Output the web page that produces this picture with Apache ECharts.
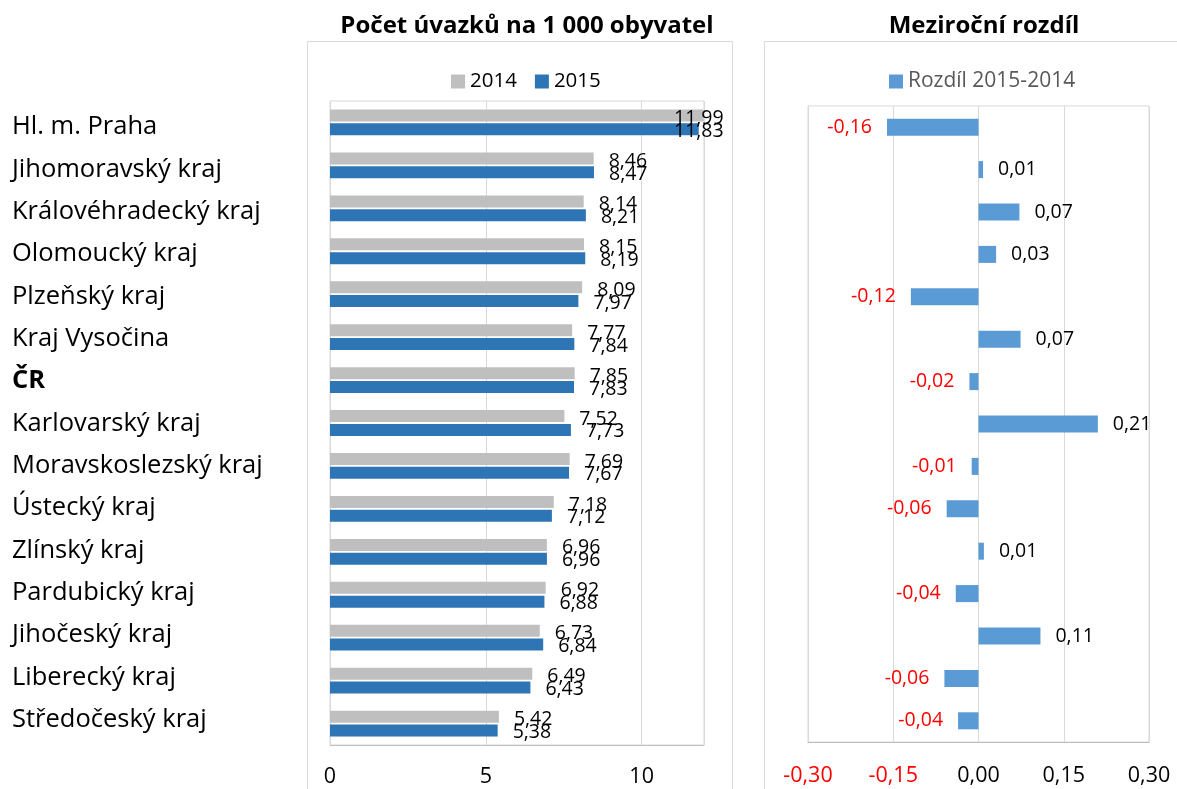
<!DOCTYPE html>
<html>
<head>
<meta charset="utf-8">
<script src="https://cdn.jsdelivr.net/npm/echarts@6/dist/echarts.min.js"></script>
<style>
  html, body { margin: 0; padding: 0; background: #fff; }
  #chart { width: 1177px; height: 789px; }
</style>
</head>
<body>
<div id="chart"></div>
<script>
  // kraje (shora dolu)
  var regions = ['Hl. m. Praha', 'Jihomoravský kraj', 'Královéhradecký kraj', 'Olomoucký kraj',
    'Plzeňský kraj', 'Kraj Vysočina', 'ČR', 'Karlovarský kraj', 'Moravskoslezský kraj',
    'Ústecký kraj', 'Zlínský kraj', 'Pardubický kraj', 'Jihočeský kraj', 'Liberecký kraj',
    'Středočeský kraj'];
  var val2014 = [11.99, 8.46, 8.14, 8.15, 8.09, 7.77, 7.85, 7.52, 7.69, 7.18, 6.96, 6.92, 6.73, 6.49, 5.42];
  var val2015 = [11.83, 8.47, 8.21, 8.19, 7.97, 7.84, 7.83, 7.73, 7.67, 7.12, 6.96, 6.88, 6.84, 6.43, 5.38];
  // rozdil 2015-2014 (odecteno z delky sloupcu)
  var diff = [-0.161, 0.008, 0.072, 0.031, -0.119, 0.074, -0.016, 0.21, -0.012, -0.056, 0.0095, -0.04, 0.109, -0.06, -0.036];

  var FONT = "'Open Sans', 'Noto Sans', sans-serif";
  var GRID_C = '#D9D9D9';

  function fmt(v) {
    return v.toFixed(2).replace('.', ',');
  }

  // popisky, ktere by pretekly pres graf, dat dovnitr
  function leftBars(arr) {
    return arr.map(function (v) {
      if (v > 11) {
        return { value: v, label: { position: 'insideLeft', distance: 344 } };
      }
      return v;
    });
  }

  var diffData = diff.map(function (v) {
    return {
      value: v,
      label: {
        position: v < 0 ? 'left' : 'right',
        color: v < 0 ? '#FF0000' : '#000000'
      }
    };
  });

  var myChart = echarts.init(document.getElementById('chart'));
  myChart.setOption({
    animation: false,
    backgroundColor: '#fff',
    textStyle: { fontFamily: FONT },
    title: [{
      text: 'Počet úvazků na 1 000 obyvatel',
      left: 522,
      top: 9,
      textAlign: 'center',
      textStyle: { fontSize: 24, fontWeight: 'bold', color: '#000', fontFamily: FONT }
    }, {
      text: 'Meziroční rozdíl',
      left: 979,
      top: 9,
      textAlign: 'center',
      textStyle: { fontSize: 24, fontWeight: 'bold', color: '#000', fontFamily: FONT }
    }],
    legend: [{
      data: ['2014', '2015'],
      left: 446,
      top: 66,
      itemWidth: 14,
      itemHeight: 14,
      itemGap: 18,
      icon: 'rect',
      textStyle: { fontSize: 20.5, color: '#000', fontFamily: FONT }
    }, {
      data: ['Rozdíl 2015-2014'],
      left: 884,
      top: 66,
      itemWidth: 14,
      itemHeight: 14,
      icon: 'rect',
      textStyle: { fontSize: 21, color: '#595959', fontFamily: FONT }
    }],
    graphic: [{
      type: 'polyline',
      shape: { points: [[307.5, 789], [307.5, 41.5], [732.5, 41.5], [732.5, 789]] },
      style: { stroke: GRID_C, lineWidth: 1, fill: null },
      silent: true
    }, {
      type: 'polyline',
      shape: { points: [[764.5, 789], [764.5, 41.5], [1177, 41.5]] },
      style: { stroke: GRID_C, lineWidth: 1, fill: null },
      silent: true
    }],
    grid: [{
      left: 330, right: 473, top: 101, bottom: 44,
      show: true, borderColor: GRID_C, borderWidth: 1
    }, {
      left: 808, right: 28, top: 106, bottom: 47,
      show: true, borderColor: GRID_C, borderWidth: 1
    }, {
      // jen pro popisky kraju (v predloze maji trochu jine rozestupy)
      left: 330, right: 473, top: 103, bottom: 51
    }],
    xAxis: [{
      type: 'value',
      gridIndex: 0,
      min: 0,
      max: 12,
      interval: 5,
      axisLine: { show: true, lineStyle: { color: '#BFBFBF' } },
      axisTick: { show: false },
      axisLabel: {
        showMaxLabel: false,
        margin: 21,
        fontSize: 21.5,
        color: '#000',
        fontFamily: FONT
      },
      splitLine: { show: true, lineStyle: { color: GRID_C } }
    }, {
      type: 'value',
      gridIndex: 1,
      min: -0.3,
      max: 0.3,
      interval: 0.15,
      axisLine: { show: true, onZero: false, lineStyle: { color: '#BFBFBF' } },
      axisTick: { show: false },
      axisLabel: {
        margin: 23,
        fontSize: 21.5,
        fontFamily: FONT,
        formatter: function (v) { return fmt(v); },
        color: function (v) { return v < -0.0001 ? '#FF0000' : '#000000'; }
      },
      splitLine: { show: true, lineStyle: { color: GRID_C } }
    }, {
      type: 'value',
      gridIndex: 2,
      min: 0,
      max: 12,
      show: false
    }],
    yAxis: [{
      type: 'category',
      gridIndex: 0,
      inverse: true,
      data: regions,
      axisLine: { show: true, lineStyle: { color: GRID_C } },
      axisTick: { show: false },
      axisLabel: { show: false }
    }, {
      type: 'category',
      gridIndex: 1,
      inverse: true,
      data: regions,
      axisLine: { show: true, onZero: true, lineStyle: { color: GRID_C } },
      axisTick: { show: false },
      axisLabel: { show: false }
    }, {
      type: 'category',
      gridIndex: 2,
      inverse: true,
      data: regions,
      axisLine: { show: false },
      axisTick: { show: false },
      splitLine: { show: false },
      axisLabel: {
        align: 'left',
        margin: 318,
        fontSize: 25.5,
        color: '#000',
        fontFamily: FONT,
        padding: [6, 0, 0, 0],
        formatter: function (v) {
          return v === 'ČR' ? '{b|' + v + '}' : v;
        },
        rich: {
          b: { fontSize: 25.5, fontWeight: 'bold', color: '#000', fontFamily: FONT }
        }
      }
    }],
    series: [{
      name: '2014',
      type: 'bar',
      xAxisIndex: 0,
      yAxisIndex: 0,
      barWidth: 12,
      barGap: '15%',
      itemStyle: { color: '#BFBFBF' },
      label: {
        show: true,
        position: 'right',
        distance: 15,
        offset: [0, 3],
        fontSize: 19.5,
        color: '#000',
        fontFamily: FONT,
        formatter: function (p) { return fmt(p.value); }
      },
      data: leftBars(val2014)
    }, {
      name: '2015',
      type: 'bar',
      xAxisIndex: 0,
      yAxisIndex: 0,
      barWidth: 12,
      barGap: '15%',
      itemStyle: { color: '#2E75B6' },
      label: {
        show: true,
        position: 'right',
        distance: 15,
        offset: [0, 2],
        fontSize: 19.5,
        color: '#000',
        fontFamily: FONT,
        formatter: function (p) { return fmt(p.value); }
      },
      data: leftBars(val2015)
    }, {
      name: 'Rozdíl 2015-2014',
      type: 'bar',
      xAxisIndex: 1,
      yAxisIndex: 1,
      barWidth: 17,
      itemStyle: { color: '#5B9BD5' },
      label: {
        show: true,
        distance: 15,
        fontSize: 19.5,
        fontFamily: FONT,
        formatter: function (p) { return fmt(p.value); }
      },
      data: diffData
    }]
  });
</script>
</body>
</html>
